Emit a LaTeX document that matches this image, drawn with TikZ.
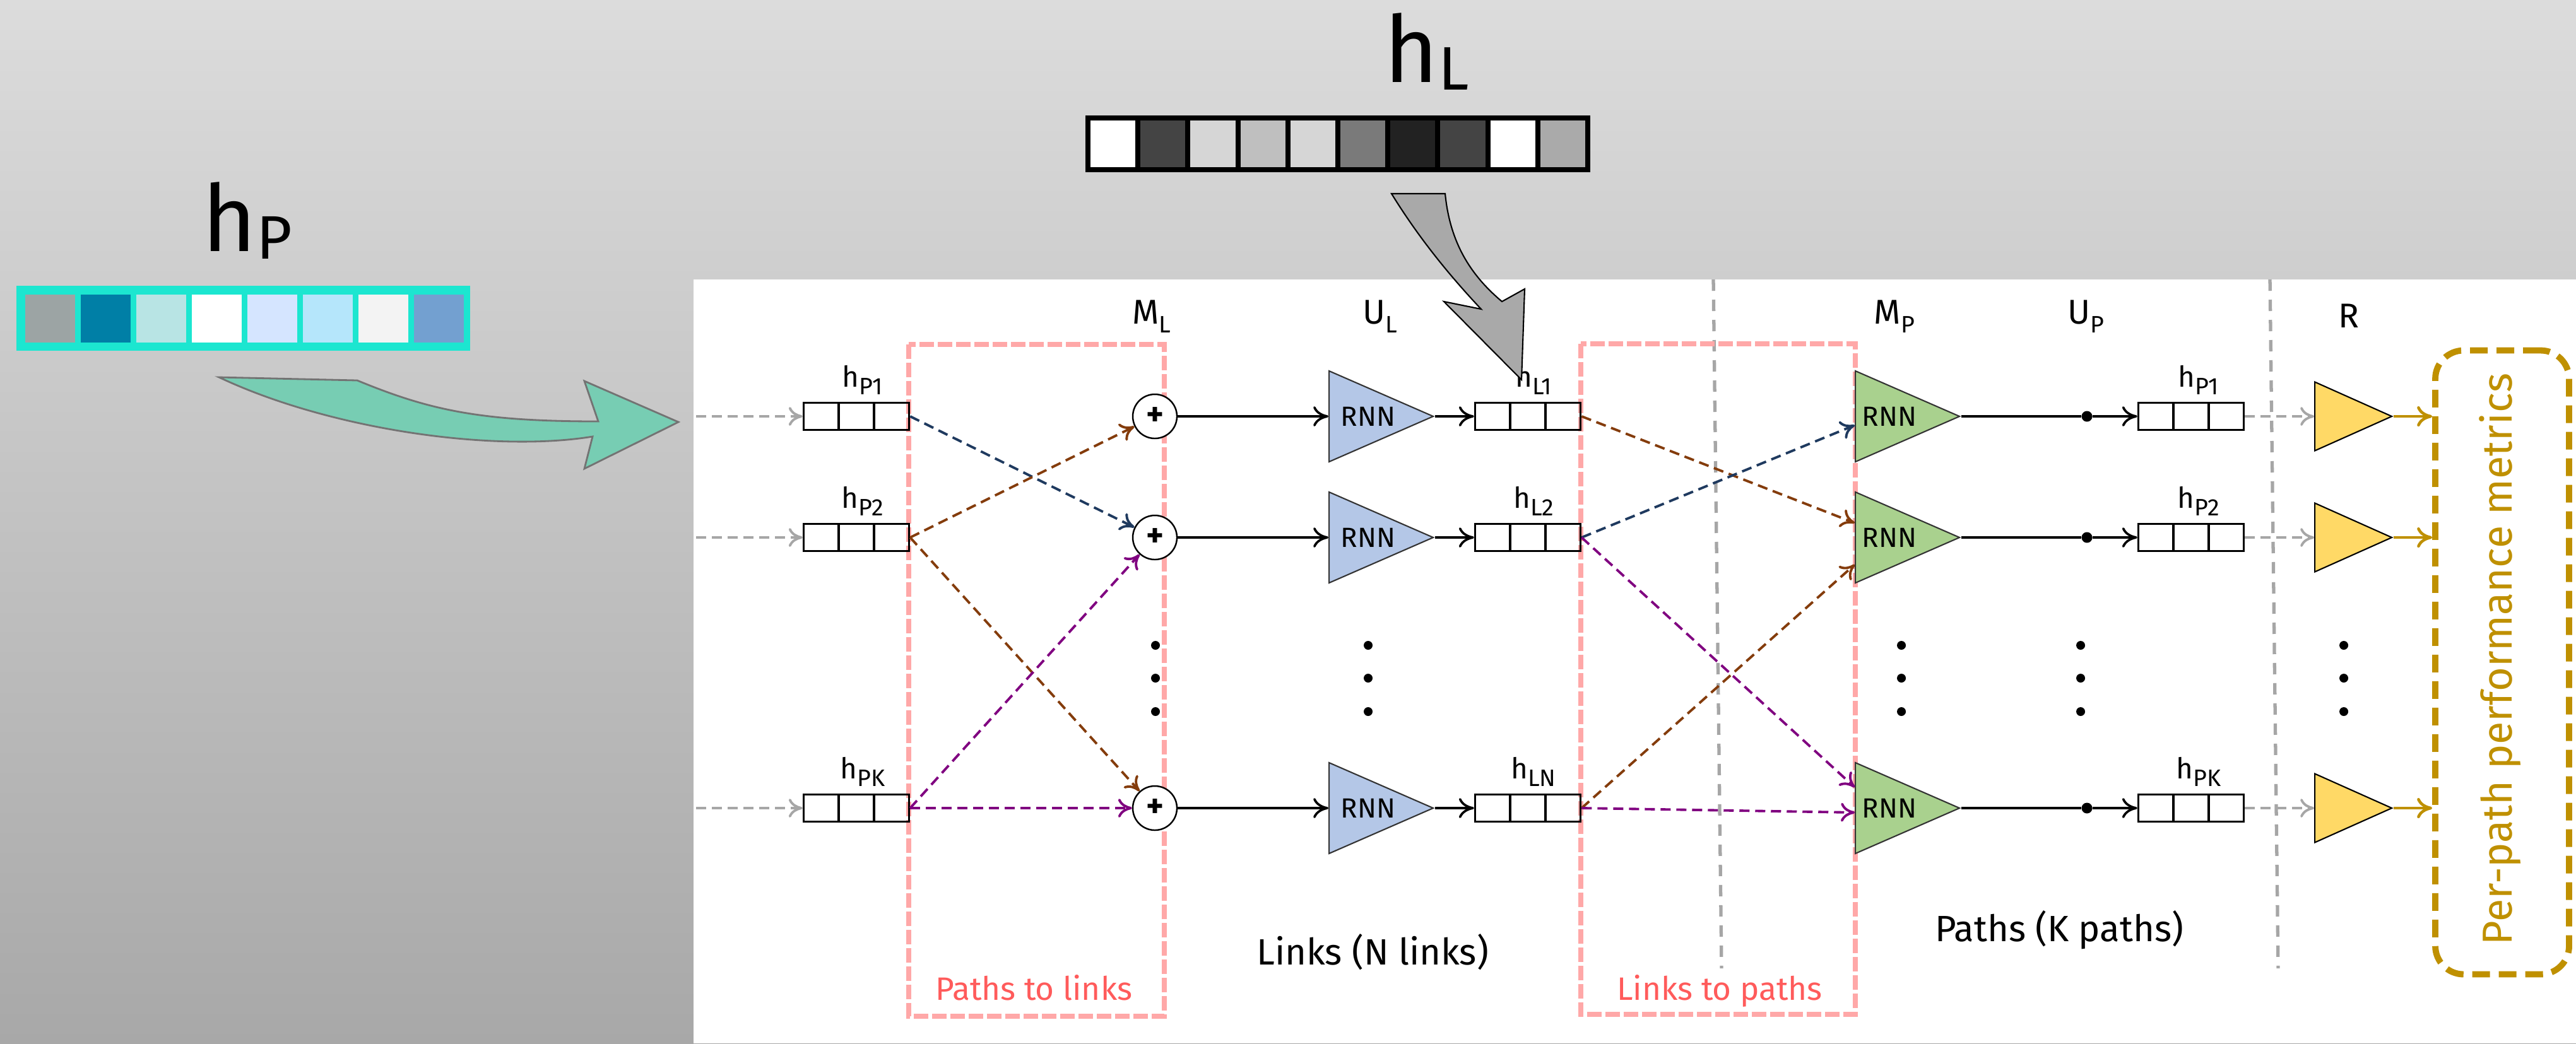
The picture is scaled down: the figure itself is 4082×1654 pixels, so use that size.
\documentclass[tikz,border=0pt]{standalone}
\usepackage{fontspec}
\setmainfont{Fira Sans}
\usepackage{xcolor}
\definecolor{bgTop}{HTML}{DCDCDC}
\definecolor{bgBottom}{HTML}{A8A8A8}
\definecolor{linkBlue}{HTML}{B4C7E7}
\definecolor{pathGreen}{HTML}{A9D18E}
\definecolor{readYellow}{HTML}{FFD966}
\definecolor{wireBlue}{HTML}{1F3A5F}
\definecolor{wireBrown}{HTML}{843C0C}
\definecolor{wirePurple}{HTML}{800080}
\definecolor{wireGray}{HTML}{A6A6A6}
\definecolor{stageRed}{HTML}{FFA8A8}
\definecolor{stageText}{HTML}{FF5B5B}
\definecolor{outGold}{HTML}{BF9000}
\definecolor{vecCyan}{HTML}{1CE6D0}
\definecolor{pathArrow}{HTML}{77CDB3}
\definecolor{linkArrow}{HTML}{A9A9A9}
\usepackage{tikz}
\usetikzlibrary{shapes.geometric,arrows.meta,positioning,calc}

\newcommand{\hvec}[1]{h\raisebox{-1.15mm}{\fontsize{10.7}{12}\selectfont #1}}
\newcommand{\hdr}[2]{#1\raisebox{-1.45mm}{\fontsize{10.7}{12}\selectfont #2}}
\newcommand{\hbig}[1]{h\raisebox{-1.2mm}{\fontsize{27.7}{30}\selectfont #1}}

\tikzset{%
  stateBox/.style={%
    rectangle,
    draw=black,
    line width=1pt,
    minimum width=16.7mm,
    minimum height=4.3mm,
    inner sep=0pt,
    path picture={%
      \draw[line width=1pt]
        ($(path picture bounding box.north west)!0.3333!(path picture bounding box.north east)$) --
        ($(path picture bounding box.south west)!0.3333!(path picture bounding box.south east)$)
        ($(path picture bounding box.north west)!0.6667!(path picture bounding box.north east)$) --
        ($(path picture bounding box.south west)!0.6667!(path picture bounding box.south east)$);
    }
  },
  rnnTri/.style={%
    isosceles triangle,
    isosceles triangle stretches,
    draw=black!80,
    line width=0.6pt,
    minimum width=14.4mm,
    minimum height=16.5mm,
    inner sep=0pt,
    anchor=west
  },
  linkRnn/.style={rnnTri, fill=linkBlue},
  pathRnn/.style={rnnTri, fill=pathGreen},
  readOut/.style={rnnTri, fill=readYellow, draw=black, minimum width=10.9mm, minimum height=12.2mm},
  rnnText/.style={font=\fontsize{12.5}{14}\selectfont, inner sep=0pt, anchor=west},
  sumNode/.style={%
    circle,
    draw=black,
    line width=0.7pt,
    fill=white,
    minimum size=7mm,
    inner sep=0pt,
    font=\bfseries\fontsize{15}{15}\selectfont
  },
  junction/.style={circle, fill=black, minimum size=1.7mm, inner sep=0pt},
  stateArrow/.style={-{To[length=2.4mm,width=3.2mm]}, line width=1.05pt},
  mixArrow/.style={-{To[length=2.2mm,width=3mm]}, line width=1.1pt, dash pattern=on 1.6mm off 0.9mm},
  feedArrow/.style={mixArrow, color=wireGray},
  goldArrow/.style={stateArrow, color=outGold, line width=1.3pt},
  stageBox/.style={draw=stageRed, line width=2.3pt, dash pattern=on 2.3mm off 0.6mm},
  stageLabel/.style={text=stageText, font=\fontsize{14.6}{16}\selectfont, inner sep=0pt, anchor=base},
  splitLine/.style={draw=wireGray, line width=1.5pt, dash pattern=on 1.8mm off 1.4mm},
  headLabel/.style={font=\fontsize{15.5}{17}\selectfont, inner sep=0pt, anchor=base},
  vecLabel/.style={font=\fontsize{13}{15}\selectfont, inner sep=0pt},
  axisLabel/.style={font=\fontsize{16.5}{18}\selectfont, inner sep=0pt, anchor=base},
  bigLabel/.style={font=\fontsize{41.8}{44}\selectfont, inner sep=0pt, anchor=base west},
  metricBox/.style={%
    draw=outGold,
    line width=2.8pt,
    rounded corners=4.5mm,
    dash pattern=on 2.8mm off 1.4mm,
    minimum width=21.2mm,
    minimum height=98.9mm
  },
  metricText/.style={text=outGold, font=\fontsize{18.9}{20}\selectfont, inner sep=0pt}
}

\begin{document}
\begin{tikzpicture}[x=0.1mm, y=-0.1mm]
  \useasboundingbox (0,0) rectangle (4082,1654);
  \shade[top color=bgTop, bottom color=bgBottom] (0,0) rectangle (4082,1654);
  \fill[white] (1099,443) rectangle (4082,1654);

  % path state vector
  \fill[vecCyan] (26,453) rectangle (745,556);
  \foreach \c [count=\i from 0] in {9CA4A4,007FA6,B8E4E4,FFFFFF,D5E5FF,B5E6FB,F3F3F3,73A0D0} {
    \definecolor{cellFill}{HTML}{\c}
    \fill[cellFill] ({40+88*\i},467) rectangle ++(79,76);
  }
  \node[bigLabel] (hpBig) at (320,398) {\hbig{P}};

  % link state vector
  \foreach \c [count=\i from 0] in {FFFFFF,444444,D6D6D6,BFBFBF,D6D6D6,7A7A7A,222222,444444,FFFFFF,AAAAAA} {
    \definecolor{cellFill}{HTML}{\c}
    \filldraw[fill=cellFill, draw=black, line width=0.8mm] ({1724+79.2*\i},187) rectangle ++(79.2,82);
  }
  \node[bigLabel] (hlBig) at (2193,130) {\hbig{L}};

  \draw[splitLine] (2715,443) -- (2728,1535);
  \draw[splitLine] (3597,443) -- (3610,1535);
  \draw[stageBox] (1440,546) rectangle (1845,1611);
  \draw[stageBox] (2505,545) rectangle (2940,1608);

  \node[headLabel] (mlHead) at (1825,513) {\hdr{M}{L}};
  \node[headLabel] (ulHead) at (2187,513) {\hdr{U}{L}};
  \node[headLabel] (mpHead) at (3002,513) {\hdr{M}{P}};
  \node[headLabel] (upHead) at (3305,513) {\hdr{U}{P}};
  \node[headLabel] (rHead) at (3722,519) {R};

  \node[metricBox] (met) at (3965,1050) {};
  \node[metricText, rotate=90] (metTxt) at (3962,1045) {Per-path performance metrics};

  \foreach \n/\y/\pName/\lName in {1/660/P1/L1, 2/852/P2/L2, 3/1281/PK/LN} {
    \coordinate (in\n) at (1103,\y);
    \node[stateBox] (hp\n) at (1357,\y) {};
    \node[vecLabel, above=1.1mm of hp\n, xshift=1mm] (hpLab\n) {\hvec{\pName}};
    \node[sumNode] (ml\n) at (1830,\y) {+};
    \node[linkRnn] (ul\n) at (2105,\y) {};
    \node[rnnText, right=1.9mm of ul\n.west] (ulTxt\n) {RNN};
    \node[stateBox] (hl\n) at (2421,\y) {};
    \node[vecLabel, above=1.1mm of hl\n, xshift=0.9mm] (hlLab\n) {\hvec{\lName}};
    \node[pathRnn] (mp\n) at (2939,\y) {};
    \node[rnnText, right=1.1mm of mp\n.west] (mpTxt\n) {RNN};
    \node[junction] (jn\n) at (3307,\y) {};
    \node[stateBox] (op\n) at (3472,\y) {};
    \node[vecLabel, above=1.1mm of op\n, xshift=1.2mm] (opLab\n) {\hvec{\pName}};
    \node[readOut] (rd\n) at (3667,\y) {};

    \draw[feedArrow] (in\n) -- (hp\n);
    \draw[stateArrow] (ml\n) -- (ul\n.west);
    \draw[stateArrow] (ul\n.apex) -- (hl\n);
    \draw[line width=1.05pt] (mp\n.apex) -- (jn\n);
    \draw[stateArrow] (jn\n) -- (op\n);
    \draw[feedArrow] (op\n) -- (rd\n.west);
    \draw[goldArrow] (rd\n.apex) -- (met.west |- rd\n.apex);
  }

  \foreach \x in {1831,2168,3013,3297,3714}
    \foreach \y in {1023,1075,1128}
      \fill (\x,\y) circle[radius=0.7mm];

  \draw[mixArrow, wireBlue] (hp1.east) -- (ml2);
  \draw[mixArrow, wireBrown] (hp2.east) -- (ml1);
  \draw[mixArrow, wireBrown] (hp2.east) -- (ml3);
  \draw[mixArrow, wirePurple] (hp3.east) -- (ml2);
  \draw[mixArrow, wirePurple] (hp3.east) -- (ml3);

  \draw[mixArrow, wireBrown] (hl1.east) -- ($(mp2.west)+(0,-23)$);
  \draw[mixArrow, wireBlue] (hl2.east) -- ($(mp1.west)+(0,14)$);
  \draw[mixArrow, wirePurple] (hl2.east) -- ($(mp3.west)+(0,-33)$);
  \draw[mixArrow, wireBrown] (hl3.east) -- ($(mp2.west)+(0,43)$);
  \draw[mixArrow, wirePurple] (hl3.east) -- ($(mp3.west)+(0,7)$);

  \node[axisLabel] (linksTxt) at (2175,1529) {Links (N links)};
  \node[axisLabel] (pathsTxt) at (3263,1492) {Paths (K paths)};
  \node[stageLabel] (p2lTxt) at (1638,1585) {Paths to links};
  \node[stageLabel] (l2pTxt) at (2725,1585) {Links to paths};

  % block arrows feeding the two state vectors in
  \draw[fill=pathArrow, draw=black!55, line width=0.8pt, line join=miter]
    (347,598) -- (566,603) .. controls (680,650) and (760,668) .. (948,668)
    -- (926,604) -- (1075,669) -- (926,743) -- (939,692)
    .. controls (780,718) and (520,680) .. (347,598) -- cycle;
  \draw[fill=linkArrow, draw=black, line width=0.6pt, line join=miter]
    (2205,307) -- (2290,307) .. controls (2298,390) and (2335,440) .. (2380,478)
    -- (2416,458) -- (2411,602) -- (2288,478) -- (2347,490)
    .. controls (2300,440) and (2250,380) .. (2205,307) -- cycle;
\end{tikzpicture}
\end{document}
